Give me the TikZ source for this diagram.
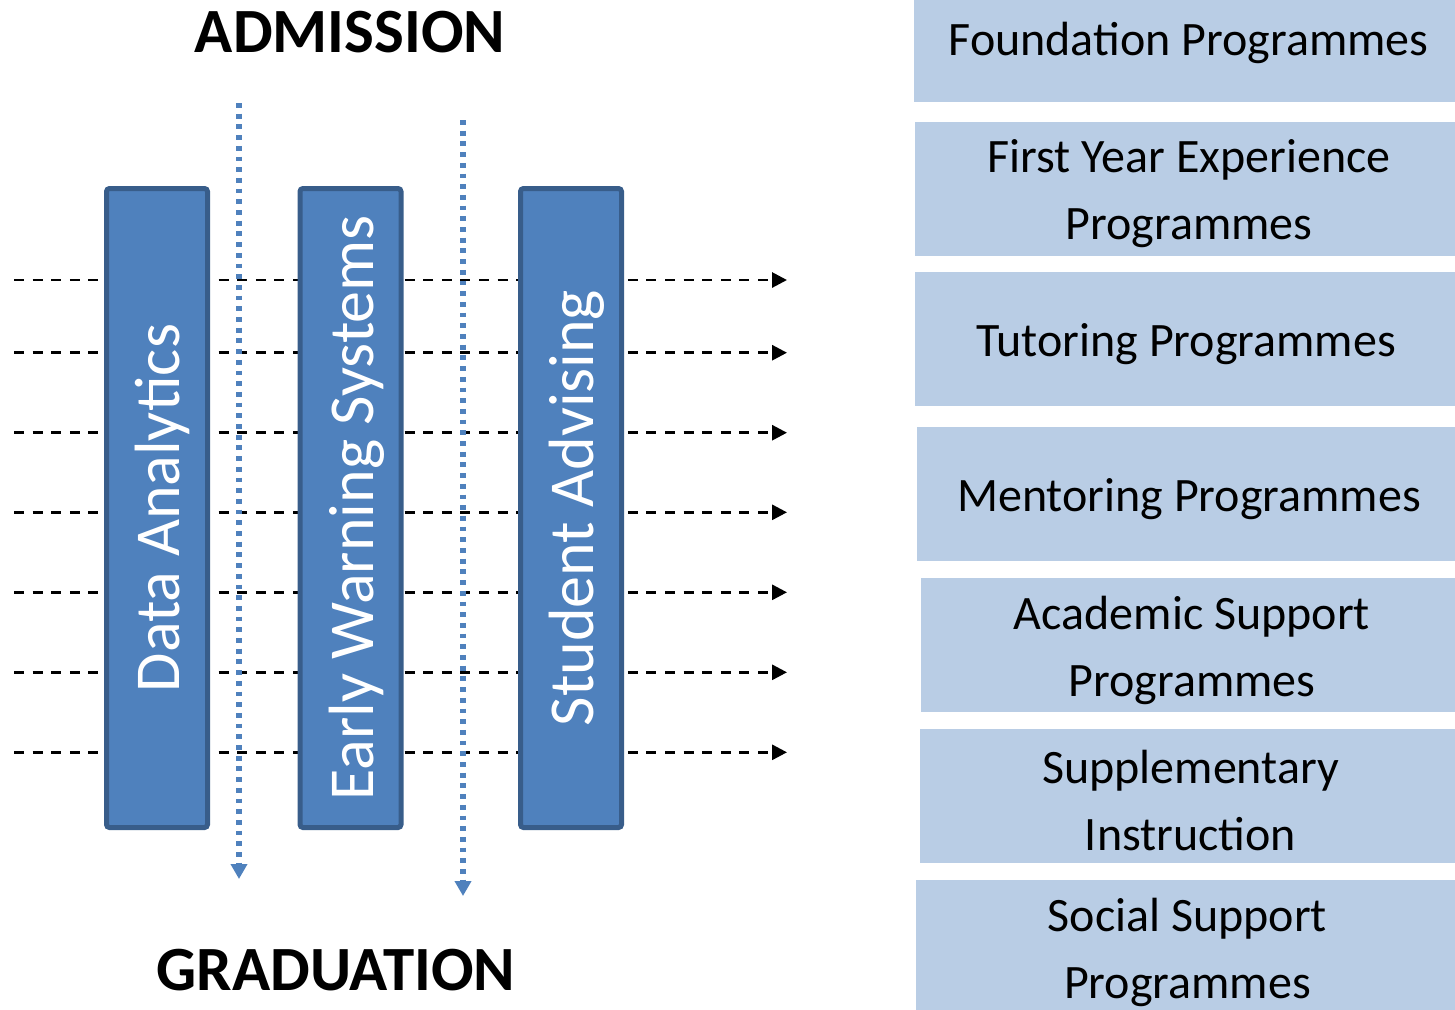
\documentclass[tikz,border=0pt]{standalone}
\usepackage{fontspec}
\setmainfont{Carlito}
\usetikzlibrary{arrows.meta}
\definecolor{colfill}{HTML}{4F81BD}
\definecolor{colborder}{HTML}{385D8A}
\definecolor{lightbox}{HTML}{B9CDE5}
\begin{document}
\begin{tikzpicture}[x=0.5pt,y=-0.5pt,
  colbox/.style={rectangle, fill=colfill, draw=colborder, line width=2.5pt, rounded corners=1.5pt,
    minimum height=319.5pt, minimum width=50.5pt, inner sep=0pt},
  coltext/.style={rotate=90, inner sep=0pt, text=white, font=\fontsize{32}{38}\selectfont},
  progbox/.style={rectangle, fill=lightbox, draw=none, inner sep=0pt, minimum height=67pt},
  progtext/.style={inner sep=0pt, align=center, font=\fontsize{24}{33.5}\selectfont},
  flowline/.style={black, line width=1.45pt, dash pattern=on 5pt off 4.3pt,
    -{Triangle[length=7.5pt,width=7.5pt]}},
  timeline/.style={colfill, line width=2.6pt, dash pattern=on 2.4pt off 2.95pt,
    -{Triangle[length=7.5pt,width=8pt]}},
  heading/.style={font=\bfseries\fontsize{31.5}{38}\selectfont, inner sep=0pt, anchor=base}
]
\useasboundingbox (0,0) rectangle (1455,1009);

% headings
\node[heading] (adm) at (350,52) {ADMISSION};
\node[heading] (grad) at (336,990) {GRADUATION};

% horizontal dashed flows (behind the columns)
\foreach \yy [count=\i] in {280,352.7,432.7,512.3,592.3,672.3,752.3} {
  \coordinate (fs\i) at (14,\yy);
  \coordinate (fe\i) at (787,\yy);
  \draw[flowline] (fs\i) -- (fe\i);
}

% columns
\node[colbox] (dabox) at (157,508) {};
\node[colbox] (ewsbox) at (350.5,508) {};
\node[colbox] (sabox) at (571,508) {};
\node[coltext] (da) at ([xshift=2.5pt]dabox.center) {Data Analytics};
\node[coltext] (ews) at ([xshift=3pt]ewsbox.center) {Early Warning Systems};
\node[coltext] (sa) at ([xshift=3pt]sabox.center) {Student Advising};

% vertical dotted timelines
\coordinate (t1s) at (239,103);
\coordinate (t1e) at (239,879);
\coordinate (t2s) at (463,120);
\coordinate (t2e) at (463,896);
\draw[timeline] (t1s) -- (t1e);
\draw[timeline] (t2s) -- (t2e);

% programme boxes
\node[progbox, minimum width=270.5pt, minimum height=62pt] (fpbox) at (1184.5,40) {};
\node[progbox, minimum width=270pt] (fybox) at (1185,189) {};
\node[progbox, minimum width=270pt] (tpbox) at (1185,339) {};
\node[progbox, minimum width=269pt] (mpbox) at (1186,494) {};
\node[progbox, minimum width=267pt] (apbox) at (1188,645) {};
\node[progbox, minimum width=267.5pt] (sibox) at (1187.5,796) {};
\node[progbox, minimum width=269.5pt] (spbox) at (1185.5,947) {};

\node[progtext] (fp) at ([xshift=2pt,yshift=-1.5pt]fpbox.center) {Foundation Programmes};
\node[progtext] (fy) at ([xshift=2pt,yshift=-2.5pt]fybox.center) {First Year Experience\\Programmes};
\node[progtext] (tp) at ([xshift=0.5pt,yshift=-2.5pt]tpbox.center) {Tutoring Programmes};
\node[progtext] (mp) at ([xshift=1.5pt,yshift=-2.5pt]mpbox.center) {Mentoring Programmes};
\node[progtext] (ap) at ([xshift=2pt,yshift=-2.5pt]apbox.center) {Academic Support\\Programmes};
\node[progtext] (si) at ([xshift=1.5pt,yshift=-2pt]sibox.center) {Supplementary\\Instruction};
\node[progtext] (sp) at ([xshift=1pt,yshift=-2.5pt]spbox.center) {Social Support\\Programmes};
\end{tikzpicture}
\end{document}
